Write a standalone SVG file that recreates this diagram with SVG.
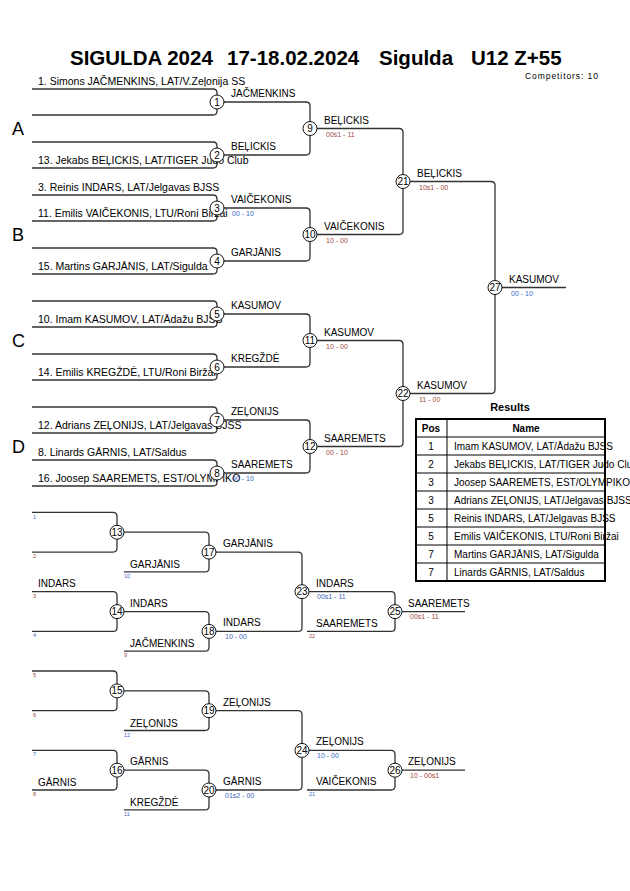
<svg xmlns="http://www.w3.org/2000/svg" width="630" height="891" viewBox="0 0 630 891">
<style>
text{font-family:"Liberation Sans",Arial,sans-serif;fill:#000}
.ln{fill:none;stroke:#333;stroke-width:1.3}
.c{fill:#fff;stroke:#111;stroke-width:1}
.cn{font-size:10px;text-anchor:middle}
.nm{font-size:10.5px}
.lb{font-size:10px}
.sc{font-size:7px}
.r{fill:#a0483c}
.b{fill:#3a66c0}
.t{font-size:5.5px}
.grp{font-size:18px}
.ttl{font-size:20.5px;font-weight:bold}
.hd{font-size:10px;font-weight:bold;text-anchor:middle}
.pos{font-size:10px;text-anchor:middle}
.tb{fill:none;stroke:#000;stroke-width:1}
</style>
<rect width="630" height="891" fill="#fff"/>
<g id="title">
<text class="ttl" x="70" y="65">SIGULDA 2024</text>
<text class="ttl" x="227" y="65">17-18.02.2024</text>
<text class="ttl" x="379" y="65">Sigulda</text>
<text class="ttl" x="471" y="65">U12 Z+55</text>
<text x="525" y="79" font-size="8.5" textLength="73" lengthAdjust="spacing">Competitors: 10</text>
</g>
<g id="pools">
<text class="grp" x="12" y="135">A</text>
<text class="grp" x="12" y="241">B</text>
<text class="grp" x="12" y="347">C</text>
<text class="grp" x="12" y="453">D</text>
</g>
<g id="connectors">
<path class="ln" d="M32 89H213Q217 89 217 93V111Q217 115 213 115H32"/>
<path class="ln" d="M32 142H213Q217 142 217 146V164Q217 168 213 168H32"/>
<path class="ln" d="M32 195H213Q217 195 217 199V217Q217 221 213 221H32"/>
<path class="ln" d="M32 248H213Q217 248 217 252V270Q217 274 213 274H32"/>
<path class="ln" d="M32 301H213Q217 301 217 305V323Q217 327 213 327H32"/>
<path class="ln" d="M32 354H213Q217 354 217 358V376Q217 380 213 380H32"/>
<path class="ln" d="M32 407H213Q217 407 217 411V429Q217 433 213 433H32"/>
<path class="ln" d="M32 460H213Q217 460 217 464V482Q217 486 213 486H32"/>
<path class="ln" d="M217 102H306Q310 102 310 106V151Q310 155 306 155H217"/>
<path class="ln" d="M217 208H306Q310 208 310 212V257Q310 261 306 261H217"/>
<path class="ln" d="M217 314H306Q310 314 310 318V363Q310 367 306 367H217"/>
<path class="ln" d="M217 420H306Q310 420 310 424V469Q310 473 306 473H217"/>
<path class="ln" d="M310 128.5H399Q403 128.5 403 132.5V230.5Q403 234.5 399 234.5H310"/>
<path class="ln" d="M310 340.5H399Q403 340.5 403 344.5V442.5Q403 446.5 399 446.5H310"/>
<path class="ln" d="M403 181.5H491Q495 181.5 495 185.5V389.5Q495 393.5 491 393.5H403"/>
<path class="ln" d="M495 287.5H566"/>
<path class="ln" d="M32 512.4H113Q117 512.4 117 516.4V548.1Q117 552.1 113 552.1H32"/>
<path class="ln" d="M117 532.2H205Q209 532.2 209 536.2V567.9Q209 571.9 205 571.9H124"/>
<path class="ln" d="M32 591.7H113Q117 591.7 117 595.7V627.4Q117 631.4 113 631.4H32"/>
<path class="ln" d="M117 611.6H205Q209 611.6 209 615.6V647.2Q209 651.2 205 651.2H124"/>
<path class="ln" d="M209 552.1H298Q302 552.1 302 556.1V627.4Q302 631.4 298 631.4H209"/>
<path class="ln" d="M302 591.7H391Q395 591.7 395 595.7V627.4Q395 631.4 391 631.4H307"/>
<path class="ln" d="M395 611.6H465"/>
<path class="ln" d="M32 671H113Q117 671 117 675V706.7Q117 710.7 113 710.7H32"/>
<path class="ln" d="M117 690.9H205Q209 690.9 209 694.9V726.5Q209 730.5 205 730.5H124"/>
<path class="ln" d="M32 750.4H113Q117 750.4 117 754.4V786Q117 790 113 790H32"/>
<path class="ln" d="M117 770.2H205Q209 770.2 209 774.2V805.9Q209 809.9 205 809.9H124"/>
<path class="ln" d="M209 710.7H298Q302 710.7 302 714.7V786Q302 790 298 790H209"/>
<path class="ln" d="M302 750.4H391Q395 750.4 395 754.4V786Q395 790 391 790H307"/>
<path class="ln" d="M395 770.2H465"/>
</g>
<g id="competitors">
<text class="nm" x="38" y="85">1. Simons JAČMENKINS, LAT/V.Zeļonija SS</text>
<text class="nm" x="38" y="164">13. Jekabs BEĻICKIS, LAT/TIGER Judo Club</text>
<text class="nm" x="38" y="191">3. Reinis INDARS, LAT/Jelgavas BJSS</text>
<text class="nm" x="38" y="217">11. Emilis VAIČEKONIS, LTU/Roni Biržai</text>
<text class="nm" x="38" y="270">15. Martins GARJĀNIS, LAT/Sigulda</text>
<text class="nm" x="38" y="323">10. Imam KASUMOV, LAT/Ādažu BJSS</text>
<text class="nm" x="38" y="376">14. Emilis KREGŽDĖ, LTU/Roni Biržai</text>
<text class="nm" x="38" y="429">12. Adrians ZEĻONIJS, LAT/Jelgavas BJSS</text>
<text class="nm" x="38" y="456">8. Linards GĀRNIS, LAT/Saldus</text>
<text class="nm" x="38" y="482">16. Joosep SAAREMETS, EST/OLYMPIKO</text>
</g>
<g id="repechage-entries">
<text class="t b" x="33" y="518.5">1</text>
<text class="t r" x="33" y="558">2</text>
<text class="t r" x="33" y="597.5">3</text>
<text class="t b" x="33" y="637">4</text>
<text class="t r" x="33" y="677">5</text>
<text class="t r" x="33" y="716.5">6</text>
<text class="t b" x="33" y="756">7</text>
<text class="t r" x="33" y="796">8</text>
<text class="t b" x="124" y="578">10</text>
<text class="t r" x="124" y="657">9</text>
<text class="t b" x="124" y="736.5">12</text>
<text class="t b" x="124" y="816">11</text>
<text class="t r" x="309" y="637.5">22</text>
<text class="t b" x="309" y="796">21</text>
<text class="lb" x="38" y="587">INDARS</text>
<text class="lb" x="38" y="785.5">GĀRNIS</text>
<text class="lb" x="130" y="568">GARJĀNIS</text>
<text class="lb" x="130" y="647">JAČMENKINS</text>
<text class="lb" x="130" y="726.5">ZEĻONIJS</text>
<text class="lb" x="130" y="806">KREGŽDĖ</text>
<text class="lb" x="316" y="626.5">SAAREMETS</text>
<text class="lb" x="316" y="785">VAIČEKONIS</text>
</g>
<g id="m1"><circle class="c" cx="217" cy="102" r="7"/><text class="cn" x="217" y="105.5">1</text><text class="lb" x="231" y="97">JAČMENKINS</text></g>
<g id="m2"><circle class="c" cx="217" cy="155" r="7"/><text class="cn" x="217" y="158.5">2</text><text class="lb" x="231" y="150">BEĻICKIS</text></g>
<g id="m3"><circle class="c" cx="217" cy="208" r="7"/><text class="cn" x="217" y="211.5">3</text><text class="lb" x="231" y="203">VAIČEKONIS</text><text class="sc b" x="232" y="215.5">00 - 10</text></g>
<g id="m4"><circle class="c" cx="217" cy="261" r="7"/><text class="cn" x="217" y="264.5">4</text><text class="lb" x="231" y="256">GARJĀNIS</text></g>
<g id="m5"><circle class="c" cx="217" cy="314" r="7"/><text class="cn" x="217" y="317.5">5</text><text class="lb" x="231" y="309">KASUMOV</text></g>
<g id="m6"><circle class="c" cx="217" cy="367" r="7"/><text class="cn" x="217" y="370.5">6</text><text class="lb" x="231" y="362">KREGŽDĖ</text></g>
<g id="m7"><circle class="c" cx="217" cy="420" r="7"/><text class="cn" x="217" y="423.5">7</text><text class="lb" x="231" y="415">ZEĻONIJS</text></g>
<g id="m8"><circle class="c" cx="217" cy="473" r="7"/><text class="cn" x="217" y="476.5">8</text><text class="lb" x="231" y="468">SAAREMETS</text><text class="sc b" x="232" y="480.5">00 - 10</text></g>
<g id="m9"><circle class="c" cx="310" cy="128.5" r="7"/><text class="cn" x="310" y="132">9</text><text class="lb" x="324" y="123.5">BEĻICKIS</text><text class="sc r" x="326" y="136.5">00s1 - 11</text></g>
<g id="m10"><circle class="c" cx="310" cy="234.5" r="7"/><text class="cn" x="310" y="238">10</text><text class="lb" x="324" y="229.5">VAIČEKONIS</text><text class="sc r" x="326" y="242.5">10 - 00</text></g>
<g id="m11"><circle class="c" cx="310" cy="340.5" r="7"/><text class="cn" x="310" y="344">11</text><text class="lb" x="324" y="335.5">KASUMOV</text><text class="sc r" x="326" y="348.5">10 - 00</text></g>
<g id="m12"><circle class="c" cx="310" cy="446.5" r="7"/><text class="cn" x="310" y="450">12</text><text class="lb" x="324" y="441.5">SAAREMETS</text><text class="sc r" x="326" y="454.5">00 - 10</text></g>
<g id="m21"><circle class="c" cx="403" cy="181.5" r="7"/><text class="cn" x="403" y="185">21</text><text class="lb" x="417" y="176.5">BEĻICKIS</text><text class="sc r" x="419" y="189.5">10s1 - 00</text></g>
<g id="m22"><circle class="c" cx="403" cy="393.5" r="7"/><text class="cn" x="403" y="397">22</text><text class="lb" x="417" y="388.5">KASUMOV</text><text class="sc r" x="419" y="401.5">11 - 00</text></g>
<g id="m27"><circle class="c" cx="495" cy="287.5" r="7"/><text class="cn" x="495" y="291">27</text><text class="lb" x="509" y="282.5">KASUMOV</text><text class="sc b" x="511" y="295.5">00 - 10</text></g>
<g id="m13"><circle class="c" cx="117" cy="532.2" r="7"/><text class="cn" x="117" y="535.7">13</text></g>
<g id="m14"><circle class="c" cx="117" cy="611.6" r="7"/><text class="cn" x="117" y="615.1">14</text><text class="lb" x="130" y="606.6">INDARS</text></g>
<g id="m15"><circle class="c" cx="117" cy="690.9" r="7"/><text class="cn" x="117" y="694.4">15</text></g>
<g id="m16"><circle class="c" cx="117" cy="770.2" r="7"/><text class="cn" x="117" y="773.7">16</text><text class="lb" x="130" y="765.2">GĀRNIS</text></g>
<g id="m17"><circle class="c" cx="209" cy="552.1" r="7"/><text class="cn" x="209" y="555.6">17</text><text class="lb" x="223" y="547.1">GARJĀNIS</text></g>
<g id="m18"><circle class="c" cx="209" cy="631.4" r="7"/><text class="cn" x="209" y="634.9">18</text><text class="lb" x="223" y="626.4">INDARS</text><text class="sc b" x="225" y="639">10 - 00</text></g>
<g id="m19"><circle class="c" cx="209" cy="710.7" r="7"/><text class="cn" x="209" y="714.2">19</text><text class="lb" x="223" y="705.7">ZEĻONIJS</text></g>
<g id="m20"><circle class="c" cx="209" cy="790" r="7"/><text class="cn" x="209" y="793.5">20</text><text class="lb" x="223" y="785">GĀRNIS</text><text class="sc b" x="225" y="797.5">01s2 - 00</text></g>
<g id="m23"><circle class="c" cx="302" cy="591.7" r="7"/><text class="cn" x="302" y="595.2">23</text><text class="lb" x="316" y="586.7">INDARS</text><text class="sc b" x="317" y="599.2">00s1 - 11</text></g>
<g id="m24"><circle class="c" cx="302" cy="750.4" r="7"/><text class="cn" x="302" y="753.9">24</text><text class="lb" x="316" y="745.4">ZEĻONIJS</text><text class="sc b" x="317" y="757.9">10 - 00</text></g>
<g id="m25"><circle class="c" cx="395" cy="611.6" r="7"/><text class="cn" x="395" y="615.1">25</text><text class="lb" x="408" y="606.6">SAAREMETS</text><text class="sc r" x="410" y="619.1">00s1 - 11</text></g>
<g id="m26"><circle class="c" cx="395" cy="770.2" r="7"/><text class="cn" x="395" y="773.7">26</text><text class="lb" x="408" y="765.2">ZEĻONIJS</text><text class="sc r" x="410" y="777.7">10 - 00s1</text></g>
<g id="results">
<text x="510" y="411" font-size="11" font-weight="bold" text-anchor="middle">Results</text>
<path class="tb" d="M416 437H605M416 455H605M416 473H605M416 491H605M416 509H605M416 527H605M416 545H605M416 563H605M447 419V581"/>
<rect x="416" y="419" width="189" height="162" fill="none" stroke="#000" stroke-width="2"/>
<text class="hd" x="431" y="432">Pos</text>
<text class="hd" x="526" y="432">Name</text>
<text class="pos" x="431" y="450">1</text><text class="lb" x="454" y="450">Imam KASUMOV, LAT/Ādažu BJSS</text>
<text class="pos" x="431" y="468">2</text><text class="lb" x="454" y="468">Jekabs BEĻICKIS, LAT/TIGER Judo Club</text>
<text class="pos" x="431" y="486">3</text><text class="lb" x="454" y="486">Joosep SAAREMETS, EST/OLYMPIKO</text>
<text class="pos" x="431" y="504">3</text><text class="lb" x="454" y="504">Adrians ZEĻONIJS, LAT/Jelgavas BJSS</text>
<text class="pos" x="431" y="522">5</text><text class="lb" x="454" y="522">Reinis INDARS, LAT/Jelgavas BJSS</text>
<text class="pos" x="431" y="540">5</text><text class="lb" x="454" y="540">Emilis VAIČEKONIS, LTU/Roni Biržai</text>
<text class="pos" x="431" y="558">7</text><text class="lb" x="454" y="558">Martins GARJĀNIS, LAT/Sigulda</text>
<text class="pos" x="431" y="576">7</text><text class="lb" x="454" y="576">Linards GĀRNIS, LAT/Saldus</text>
</g>
</svg>
